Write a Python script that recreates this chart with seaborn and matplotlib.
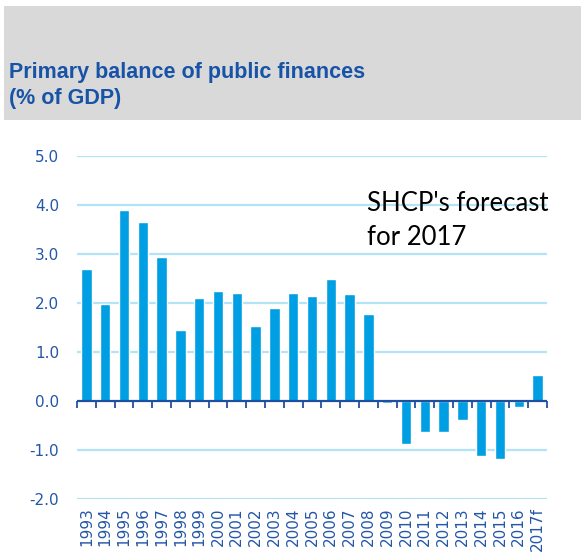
import matplotlib
matplotlib.use("Agg")
import matplotlib.pyplot as plt
import seaborn as sns
import numpy as np
import pandas as pd
from matplotlib.patches import Rectangle

years = ["1993", "1994", "1995", "1996", "1997", "1998", "1999", "2000", "2001",
         "2002", "2003", "2004", "2005", "2006", "2007", "2008", "2009", "2010",
         "2011", "2012", "2013", "2014", "2015", "2016", "2017f"]
balance = [2.68, 1.97, 3.89, 3.65, 2.93, 1.45, 2.09, 2.25, 2.21,
           1.53, 1.89, 2.21, 2.13, 2.49, 2.17, 1.77, -0.05, -0.87,
           -0.63, -0.63, -0.39, -1.12, -1.19, -0.12, 0.52]
yticks = [-2.0, -1.0, 0.0, 1.0, 2.0, 3.0, 4.0, 5.0]

title_text = "Primary balance of public finances\n(% of GDP)"
note_text = "SHCP's forecast\nfor 2017"

BAR = "#009FE3"
GRID = "#B3E3F6"
AXIS = "#1F50A0"
LABEL = "#2457A8"
TITLE = "#1753A6"

sns.set_theme(style="white")
plt.rcParams['font.family'] = ['Liberation Sans', 'DejaVu Sans']

df = pd.DataFrame({"year": years, "balance": balance})

W, H = 581, 554
fig = plt.figure(figsize=(W / 100, H / 100), dpi=100)
fig.patches.append(Rectangle((4 / W, 1 - 120 / H), 1 - 4 / W, 114 / H,
                             transform=fig.transFigure, facecolor="#D9D9D9",
                             edgecolor="none", zorder=0))
fig.text(9 / W, 1 - 62 / H, title_text, color=TITLE, fontsize=15.5,
         fontweight="bold", va="top", ha="left", linespacing=1.3)

ax = fig.add_axes([77 / W, 1 - 499 / H, 470 / W, (499 - 155.7) / H])
sns.barplot(data=df, x="year", y="balance", color=BAR, width=0.55,
            saturation=1, ax=ax, zorder=3)
ax.set_ylim(-2, 5)
ax.set_xlim(-0.5, len(years) - 0.5)
ax.set_yticks(yticks)
ax.set_yticklabels([f"{v:.1f}" for v in yticks])
for v in yticks:
    if v != 0:
        ax.axhline(v, color=GRID, lw=1.6, zorder=1)
ax.axhline(0, color=AXIS, lw=1.6, zorder=4)
for s in ax.spines.values():
    s.set_visible(False)
ax.set_xlabel("")
ax.set_ylabel("")
ax.tick_params(axis="y", length=0, labelsize=11, labelcolor=LABEL, pad=13)
ax.tick_params(axis="x", length=0, labelsize=11, labelcolor=LABEL,
               labelrotation=90, pad=6)
for t in ax.get_xticklabels() + ax.get_yticklabels():
    t.set_family(["DejaVu Sans"])
for t in ax.get_xticklabels():
    t.set_va("top")

sec = ax.secondary_xaxis(2 / 7)
sec.set_xticks(np.arange(-0.5, len(years), 1.0))
sec.set_xticklabels([])
sec.tick_params(length=5, width=1.3, color=AXIS, direction="out")
for s in sec.spines.values():
    s.set_visible(False)

fig.text(367 / W, 1 - 191 / H, note_text, color="black", fontsize=18.5,
         family=["Lato", "DejaVu Sans"], va="top", ha="left", linespacing=1.45)

fig.savefig("out.png", dpi=100)
